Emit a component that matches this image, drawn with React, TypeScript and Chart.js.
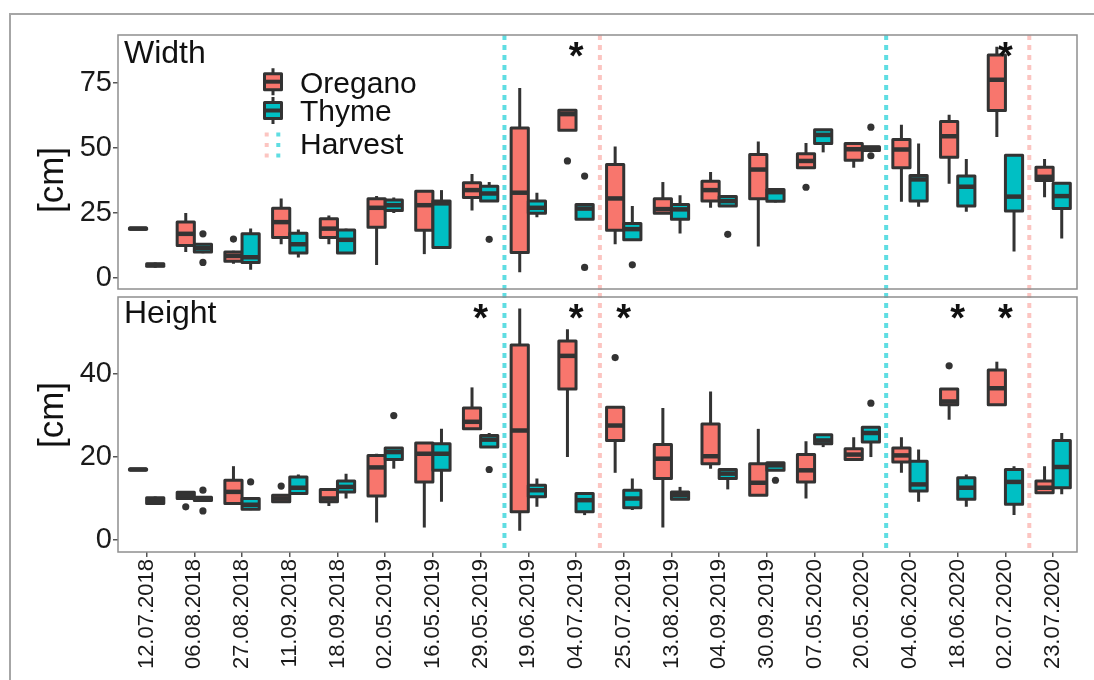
import React, { useEffect, useRef } from "react";
import { Chart, registerables } from "chart.js";
Chart.register(...registerables);

const FONT = '"Liberation Sans", Arial, Helvetica, sans-serif';
const DARK = "#333333";
const OREGANO = "#F8766D";
const THYME = "#00BFC4";
const HARVEST_OREGANO = "#fcc5c1";
const HARVEST_THYME = "#5fdde2";

const dates = [
  "12.07.2018", "06.08.2018", "27.08.2018", "11.09.2018", "18.09.2018",
  "02.05.2019", "16.05.2019", "29.05.2019", "19.06.2019", "04.07.2019",
  "25.07.2019", "13.08.2019", "04.09.2019", "30.09.2019", "07.05.2020",
  "20.05.2020", "04.06.2020", "18.06.2020", "02.07.2020", "23.07.2020",
];

// [min, q1, median, q3, max]
const widthOregano = [
  [18.7, 18.8, 19, 19.2, 19.3], [10, 12.5, 17, 21.5, 25], [5.5, 6.5, 8.5, 10, 10.5],
  [13, 15.6, 21.5, 26.8, 30.6], [13, 15.6, 19, 22.8, 24], [5, 19.5, 27, 30.5, 31.5],
  [9.2, 18.4, 28, 33.4, 33.4], [26, 31, 33.8, 36.6, 40], [2.2, 9.8, 32.8, 57.7, 73],
  [56.8, 56.8, 63, 64.5, 64.5], [13, 18.4, 30.6, 43.6, 50.6], [24.9, 24.9, 26.5, 30.5, 36.9],
  [27, 29.6, 33.8, 37.2, 40.8], [12.1, 30.5, 41.7, 47.5, 52.5], [42.4, 42.4, 45, 47.8, 51.9],
  [42.4, 45.3, 49.5, 51.7, 51.7], [29.3, 42.4, 49.4, 53.2, 58.9], [36.2, 46.4, 54.5, 60.2, 62.8],
  [54.2, 64.4, 76.2, 85.7, 88.9], [31.1, 37.5, 38.9, 42.6, 45.8],
];
const widthThyme = [
  [4, 4.5, 5, 5.5, 6], [9.5, 10, 11.5, 13, 13.5], [3.2, 6, 8, 17, 19],
  [7.9, 9.6, 13, 17.2, 18.7], [9.6, 9.6, 14.7, 18.5, 19], [25, 26, 28, 30, 31],
  [11.7, 11.7, 28.7, 29.6, 33.8], [29.6, 29.6, 32.5, 35.3, 36.9], [23.4, 24.9, 27, 29.6, 32.8],
  [22.6, 22.6, 26.7, 28.3, 28.3], [14.7, 14.7, 18.8, 21, 27.7], [17.1, 22.6, 26.4, 28.3, 31.8],
  [27.7, 27.7, 29.6, 31.3, 31.3], [29, 29.5, 33, 34, 34.5], [48.3, 51.7, 55, 57, 57],
  [48.7, 49, 50, 50.5, 50.6], [27.4, 29.6, 37.9, 39.4, 51.7], [25.5, 27.7, 35.1, 39.2, 45.8],
  [10.2, 25.8, 31.3, 47.2, 47.5], [15.2, 26.7, 31.5, 36.4, 36.9],
];
const widthOreganoOut = [[], [], [15], [], [], [], [], [], [], [45], [], [], [], [], [34.9], [], [], [], [], []];
const widthThymeOut = [[], [17, 6], [], [], [], [], [], [14.9], [], [39.2, 4.1], [5.1], [], [16.8], [], [], [58, 47], [], [], [], []];

const heightOregano = [
  [16.8, 16.9, 17, 17.1, 17.2], [10, 10, 10.8, 11.5, 11.5], [8.8, 8.8, 11.6, 14.4, 17.8],
  [9.2, 9.2, 10, 10.8, 10.8], [8.2, 9.2, 10, 12.2, 12.2], [4.2, 10.6, 17.5, 20.4, 20.8],
  [3, 14, 20.8, 23.4, 23.4], [26.8, 26.8, 28.5, 31.8, 36.8], [2.2, 6.8, 26.4, 47, 55.8],
  [20, 36.4, 44.4, 48, 50.8], [16.2, 24, 27.6, 32, 32], [3, 14.8, 19.6, 23, 31.8],
  [17.2, 18.4, 20.2, 28, 35.8], [10.8, 10.8, 13.8, 18.4, 26.8], [10, 14, 16.8, 20.6, 23.8],
  [19.2, 19.4, 20.6, 22, 24.8], [16.2, 18.8, 20.4, 22.2, 24.8], [29, 32.6, 33.4, 36.4, 36.4],
  [32.6, 32.6, 36.6, 41, 43], [11.2, 11.4, 12.6, 14.2, 17.8],
];
const heightThyme = [
  [8.5, 8.8, 9.4, 10.2, 10.5], [9.4, 9.5, 10, 10.3, 10.4], [7.2, 7.4, 8.5, 10, 10],
  [11.2, 11.2, 12.6, 15.2, 15.8], [10, 11.6, 12.8, 14.2, 16], [17.2, 19.4, 21.2, 22.2, 22.2],
  [9.2, 16.8, 20.8, 23.2, 26.8], [22.4, 22.4, 24.2, 25.2, 25.8], [8, 10.4, 12, 13.2, 14.8],
  [6, 6.8, 9.6, 11.2, 11.2], [7.2, 7.8, 10, 12, 14.8], [9.8, 9.8, 10.8, 11.6, 12.8],
  [12.2, 14.8, 16, 17, 17], [16.8, 16.8, 18, 18.6, 18.6], [22.4, 23.2, 24, 25.4, 25.4],
  [20, 23.6, 25.8, 27.2, 27.2], [9.2, 11.8, 13.4, 19, 21.8], [8, 9.8, 12.6, 15, 15.8],
  [6, 8.6, 14, 17, 17.8], [11, 12.6, 17.6, 24, 25.8],
];
const heightOreganoOut = [[], [8], [], [13], [], [], [], [], [], [], [44], [], [], [], [], [], [], [42], [], []];
const heightThymeOut = [[], [12, 7], [14], [], [], [30], [], [17], [], [], [], [], [], [14.4], [], [33], [], [], [], []];

const harvestOregano = [10.5, 19.5];
const harvestThyme = [8.5, 16.5];
const widthStars = [10, 19];
const widthStarValue = 89.2;
const heightStars = [8, 10, 11, 18, 19];
const heightStarValue = 55.9;
const widthTicks = [0, 25, 50, 75];
const heightTicks = [0, 20, 40];

const BOXW = 0.36;
const STAR_SIZE = 38;

function outlierData(out: number[][], off: number) {
  const pts: { x: number; y: number }[] = [];
  out.forEach((arr, i) => arr.forEach((v) => pts.push({ x: i + 1 + off, y: v })));
  return pts;
}

function drawBox(ctx: CanvasRenderingContext2D, xs: any, ys: any, xl: number, xr: number, s: number[], fill: string) {
  const [mn, q1, md, q3, mx] = s;
  const L = xs.getPixelForValue(xl);
  const R = xs.getPixelForValue(xr);
  const xm = (L + R) / 2;
  ctx.save();
  ctx.strokeStyle = DARK;
  ctx.lineWidth = 3;
  ctx.lineCap = "butt";
  ctx.beginPath();
  ctx.moveTo(xm, ys.getPixelForValue(mx));
  ctx.lineTo(xm, ys.getPixelForValue(q3));
  ctx.moveTo(xm, ys.getPixelForValue(q1));
  ctx.lineTo(xm, ys.getPixelForValue(mn));
  ctx.stroke();
  const T = ys.getPixelForValue(q3);
  const B = ys.getPixelForValue(q1);
  ctx.fillStyle = fill;
  ctx.fillRect(L, T, R - L, B - T);
  ctx.lineJoin = "round";
  ctx.strokeRect(L, T, R - L, B - T);
  const M = ys.getPixelForValue(md);
  ctx.lineWidth = 4.5;
  ctx.beginPath();
  ctx.moveTo(L, M);
  ctx.lineTo(R, M);
  ctx.stroke();
  ctx.restore();
}

function makePlugin(cfg: any) {
  return {
    id: "boxpanel",
    beforeDatasetsDraw(chart: any) {
      const ctx = chart.ctx as CanvasRenderingContext2D;
      const xs = chart.scales.x;
      const ys = chart.scales.y;
      const ca = chart.chartArea;
      ctx.save();
      ctx.lineWidth = 4;
      ctx.setLineDash([5, 5]);
      const vl = (v: number, c: string) => {
        const x = xs.getPixelForValue(v);
        ctx.strokeStyle = c;
        ctx.beginPath();
        ctx.moveTo(x, cfg.lineTop(ca));
        ctx.lineTo(x, cfg.lineBottom(ca));
        ctx.stroke();
      };
      harvestThyme.forEach((v) => vl(v, HARVEST_THYME));
      harvestOregano.forEach((v) => vl(v, HARVEST_OREGANO));
      ctx.restore();
      ctx.save();
      ctx.beginPath();
      ctx.rect(ca.left, ca.top, ca.right - ca.left, ca.bottom - ca.top);
      ctx.clip();
      cfg.oregano.forEach((s: number[], i: number) => drawBox(ctx, xs, ys, i + 1 - BOXW, i + 1, s, OREGANO));
      cfg.thyme.forEach((s: number[], i: number) => drawBox(ctx, xs, ys, i + 1, i + 1 + BOXW, s, THYME));
      ctx.restore();
    },
    afterDraw(chart: any) {
      const ctx = chart.ctx as CanvasRenderingContext2D;
      const xs = chart.scales.x;
      const ys = chart.scales.y;
      const ca = chart.chartArea;
      ctx.save();
      ctx.strokeStyle = "#8f8f8f";
      ctx.lineWidth = 1.5;
      ctx.strokeRect(ca.left, ca.top, ca.right - ca.left, ca.bottom - ca.top);
      ctx.fillStyle = "#111";
      ctx.font = `bold ${STAR_SIZE}px ${FONT}`;
      ctx.textAlign = "center";
      ctx.textBaseline = "alphabetic";
      cfg.stars.forEach((i: number) => {
        ctx.fillText("*", xs.getPixelForValue(i), ys.getPixelForValue(cfg.starValue) + 0.6 * STAR_SIZE);
      });
      ctx.textAlign = "left";
      ctx.font = `32px ${FONT}`;
      ctx.fillText(cfg.title, 124, cfg.titleBaseline);
      ctx.save();
      ctx.translate(53, cfg.yTitleCenter);
      ctx.rotate(-Math.PI / 2);
      ctx.textAlign = "center";
      ctx.textBaseline = "middle";
      ctx.font = `35px ${FONT}`;
      ctx.fillText("[cm]", 0, 0);
      ctx.restore();
      if (cfg.legend) drawLegend(ctx);
      ctx.restore();
    },
  };
}

function legendBox(ctx: CanvasRenderingContext2D, cy: number, fill: string) {
  const L = 264.5, R = 281.5, xm = 273;
  ctx.strokeStyle = DARK;
  ctx.lineWidth = 3;
  ctx.beginPath();
  ctx.moveTo(xm, cy - 13.5);
  ctx.lineTo(xm, cy - 8);
  ctx.moveTo(xm, cy + 8);
  ctx.lineTo(xm, cy + 13.5);
  ctx.stroke();
  ctx.fillStyle = fill;
  ctx.fillRect(L, cy - 8, R - L, 16);
  ctx.lineJoin = "round";
  ctx.strokeRect(L, cy - 8, R - L, 16);
  ctx.lineWidth = 4;
  ctx.beginPath();
  ctx.moveTo(L, cy);
  ctx.lineTo(R, cy);
  ctx.stroke();
}

function drawLegend(ctx: CanvasRenderingContext2D) {
  ctx.save();
  legendBox(ctx, 81.7, OREGANO);
  legendBox(ctx, 110.5, THYME);
  ctx.lineWidth = 4;
  ctx.setLineDash([4, 6.5]);
  ctx.strokeStyle = HARVEST_OREGANO;
  ctx.beginPath();
  ctx.moveTo(266.7, 132.5);
  ctx.lineTo(266.7, 159);
  ctx.stroke();
  ctx.strokeStyle = HARVEST_THYME;
  ctx.beginPath();
  ctx.moveTo(278.3, 132.5);
  ctx.lineTo(278.3, 159);
  ctx.stroke();
  ctx.setLineDash([]);
  ctx.fillStyle = "#111";
  ctx.font = `30px ${FONT}`;
  ctx.textAlign = "left";
  ctx.textBaseline = "alphabetic";
  ctx.fillText("Oregano", 300, 93);
  ctx.fillText("Thyme", 300, 121);
  ctx.fillText("Harvest", 300, 154);
  ctx.restore();
}

function yScale(min: number, max: number, ticks: number[]) {
  return {
    type: "linear",
    min,
    max,
    afterBuildTicks: (s: any) => {
      s.ticks = ticks.map((v) => ({ value: v }));
    },
    afterFit: (s: any) => {
      s.width = 118;
      s.paddingTop = 0;
      s.paddingBottom = 0;
    },
    grid: { drawOnChartArea: false, drawTicks: true, tickLength: 5, color: "#555", lineWidth: 1.5 },
    border: { display: false },
    ticks: { font: { family: FONT, size: 29 }, color: "#1a1a1a", padding: 1 },
  };
}

function scatterSets(oOut: number[][], tOut: number[][]) {
  return [
    { data: outlierData(oOut, -BOXW / 2), pointRadius: 3.6, backgroundColor: DARK, borderWidth: 0 },
    { data: outlierData(tOut, BOXW / 2), pointRadius: 3.6, backgroundColor: DARK, borderWidth: 0 },
  ];
}

export default function App() {
  const topRef = useRef<HTMLCanvasElement>(null);
  const botRef = useRef<HTMLCanvasElement>(null);

  useEffect(() => {
    const top = new Chart(topRef.current!, {
      type: "scatter",
      data: { datasets: scatterSets(widthOreganoOut, widthThymeOut) as any },
      options: {
        animation: false,
        responsive: false,
        maintainAspectRatio: false,
        events: [],
        layout: { padding: { left: 0, top: 35, right: 17, bottom: 3 } },
        plugins: { legend: { display: false }, tooltip: { enabled: false } },
        scales: {
          x: { type: "linear", display: false, min: 0.4, max: 20.5 },
          y: yScale(-4.2, 93.4, widthTicks) as any,
        },
      },
      plugins: [
        makePlugin({
          oregano: widthOregano,
          thyme: widthThyme,
          stars: widthStars,
          starValue: widthStarValue,
          title: "Width",
          titleBaseline: 62.7,
          yTitleCenter: 180,
          legend: true,
          lineTop: (ca: any) => ca.top,
          lineBottom: () => 293,
        }),
      ],
    });
    const bot = new Chart(botRef.current!, {
      type: "scatter",
      data: { datasets: scatterSets(heightOreganoOut, heightThymeOut) as any },
      options: {
        animation: false,
        responsive: false,
        maintainAspectRatio: false,
        events: [],
        layout: { padding: { left: 0, top: 3, right: 17, bottom: 0 } },
        plugins: { legend: { display: false }, tooltip: { enabled: false } },
        scales: {
          x: {
            type: "linear",
            min: 0.4,
            max: 20.5,
            afterBuildTicks: (s: any) => {
              s.ticks = dates.map((_, i) => ({ value: i + 1 }));
            },
            afterFit: (s: any) => {
              s.height = 128;
              s.paddingLeft = 0;
              s.paddingRight = 0;
            },
            grid: { drawOnChartArea: false, drawTicks: true, tickLength: 5, color: "#555", lineWidth: 1.5 },
            border: { display: false },
            ticks: {
              autoSkip: false,
              maxRotation: 90,
              minRotation: 90,
              padding: 2,
              font: { family: FONT, size: 22 },
              color: "#1a1a1a",
              callback: (v: any) => dates[Math.round(v) - 1] ?? "",
            },
          } as any,
          y: yScale(-2.9, 58.6, heightTicks) as any,
        },
      },
      plugins: [
        makePlugin({
          oregano: heightOregano,
          thyme: heightThyme,
          stars: heightStars,
          starValue: heightStarValue,
          title: "Height",
          titleBaseline: 322.7 - 293,
          yTitleCenter: 415 - 293,
          legend: false,
          lineTop: () => 0,
          lineBottom: (ca: any) => ca.bottom,
        }),
      ],
    });
    return () => {
      top.destroy();
      bot.destroy();
    };
  }, []);

  return (
    <div style={{ position: "fixed", left: 0, top: 0, width: 1094, height: 680, background: "#fff", overflow: "hidden" }}>
      <div
        style={{
          position: "absolute",
          left: 9,
          top: 13,
          width: 1200,
          height: 800,
          borderLeft: "2px solid #a6a6a6",
          borderTop: "2px solid #a6a6a6",
        }}
      />
      <canvas ref={topRef} width={1094} height={293} style={{ position: "absolute", left: 0, top: 0, display: "block" }} />
      <canvas ref={botRef} width={1094} height={387} style={{ position: "absolute", left: 0, top: 293, display: "block" }} />
    </div>
  );
}
